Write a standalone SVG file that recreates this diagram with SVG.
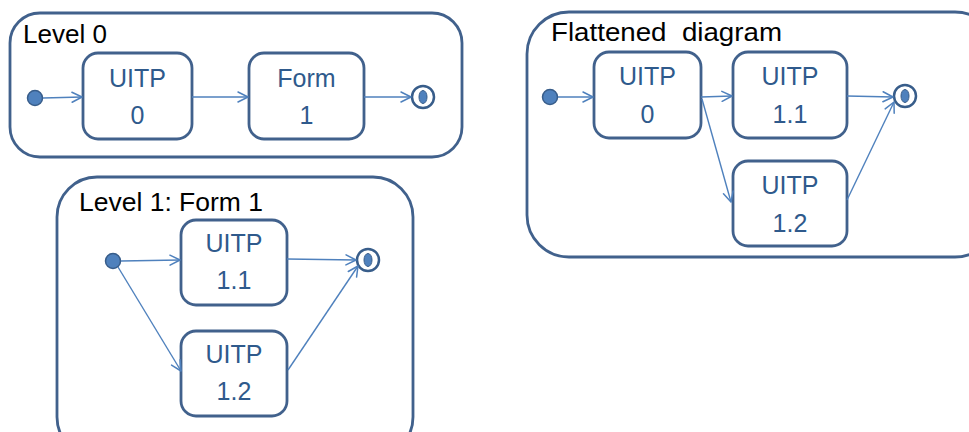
<svg xmlns="http://www.w3.org/2000/svg" width="969" height="432" viewBox="0 0 969 432">
<defs>
<marker id="arr" markerUnits="userSpaceOnUse" markerWidth="14" markerHeight="14" refX="11" refY="6" orient="auto" viewBox="0 0 14 12">
<path d="M1,1 L11,6 L1,11" fill="none" stroke="#4F81BD" stroke-width="1.5" stroke-linejoin="round" stroke-linecap="round"/>
</marker>
<style>
.cont{fill:#fff;stroke:#41618C;stroke-width:2.8}
.node{fill:#fff;stroke:#41618C;stroke-width:2.8}
.lbl{font-family:"Liberation Sans",Arial,sans-serif;font-size:26px;fill:#000}
.nt{font-family:"Liberation Sans",Arial,sans-serif;font-size:25px;fill:#2F5A8C;text-anchor:middle}
.init{fill:#4F81BD;stroke:#385D8A;stroke-width:1.5}
.fin{fill:#fff;stroke:#385D8A;stroke-width:2.5}
.fin-in{fill:#4F81BD;stroke:#385D8A;stroke-width:1}
.edge{fill:none;stroke:#4F81BD;stroke-width:1.4;marker-end:url(#arr)}
</style>
</defs>

<!-- Containers -->
<g id="level0">
<rect class="cont" x="10" y="13" width="452" height="144" rx="30"/>
<text class="lbl" x="23" y="43" textLength="84" lengthAdjust="spacingAndGlyphs">Level 0</text>
</g>
<g id="level1">
<rect class="cont" x="57" y="177" width="356" height="280" rx="40"/>
<text class="lbl" x="79" y="211" textLength="184" lengthAdjust="spacingAndGlyphs">Level 1: Form 1</text>
</g>
<g id="flattened">
<rect class="cont" x="527" y="12" width="470" height="245" rx="42"/>
<text class="lbl" x="551" y="41" xml:space="preserve" textLength="231" lengthAdjust="spacingAndGlyphs">Flattened  diagram</text>
</g>

<!-- Level 0 nodes -->
<g id="l0-init"><circle class="init" cx="35" cy="98" r="7.5"/></g>
<g id="l0-uitp0">
<rect class="node" x="83" y="53" width="109" height="86" rx="15"/>
<text class="nt" x="137.5" y="87">UITP</text>
<text class="nt" x="137.5" y="124">0</text>
</g>
<g id="l0-form1">
<rect class="node" x="249" y="53" width="115" height="86" rx="15"/>
<text class="nt" x="306.5" y="87">Form</text>
<text class="nt" x="306.5" y="124">1</text>
</g>
<g id="l0-final">
<circle class="fin" cx="423" cy="97" r="11"/>
<ellipse class="fin-in" cx="423" cy="97" rx="4" ry="6.5"/>
</g>

<!-- Level 1 nodes -->
<g id="l1-init"><circle class="init" cx="113" cy="261" r="7.5"/></g>
<g id="l1-uitp11">
<rect class="node" x="181" y="220" width="106" height="85" rx="15"/>
<text class="nt" x="234" y="252">UITP</text>
<text class="nt" x="234" y="289">1.1</text>
</g>
<g id="l1-uitp12">
<rect class="node" x="181" y="331" width="106" height="85" rx="15"/>
<text class="nt" x="234" y="363">UITP</text>
<text class="nt" x="234" y="400">1.2</text>
</g>
<g id="l1-final">
<circle class="fin" cx="368" cy="260" r="11"/>
<ellipse class="fin-in" cx="368" cy="260" rx="4" ry="6.5"/>
</g>

<!-- Flattened nodes -->
<g id="f-init"><circle class="init" cx="550" cy="97" r="7.5"/></g>
<g id="f-uitp0">
<rect class="node" x="594" y="52" width="107" height="86" rx="15"/>
<text class="nt" x="647.5" y="85">UITP</text>
<text class="nt" x="647.5" y="123">0</text>
</g>
<g id="f-uitp11">
<rect class="node" x="733" y="52" width="114" height="86" rx="15"/>
<text class="nt" x="790" y="85">UITP</text>
<text class="nt" x="790" y="123">1.1</text>
</g>
<g id="f-uitp12">
<rect class="node" x="733" y="161" width="114" height="85" rx="15"/>
<text class="nt" x="790" y="194">UITP</text>
<text class="nt" x="790" y="232">1.2</text>
</g>
<g id="f-final">
<circle class="fin" cx="905" cy="96" r="11"/>
<ellipse class="fin-in" cx="905" cy="96" rx="4" ry="6.5"/>
</g>

<!-- Connectors -->
<g id="connectors">
<line class="edge" x1="43" y1="98" x2="82" y2="97"/>
<line class="edge" x1="192" y1="97" x2="248" y2="97"/>
<line class="edge" x1="364" y1="97" x2="411" y2="97"/>

<line class="edge" x1="121" y1="261" x2="180" y2="260"/>
<line class="edge" x1="118" y1="267" x2="181" y2="371"/>
<line class="edge" x1="287" y1="259" x2="356" y2="260"/>
<line class="edge" x1="288" y1="370" x2="358" y2="266"/>

<line class="edge" x1="558" y1="97" x2="593" y2="97"/>
<line class="edge" x1="701" y1="97" x2="732" y2="96"/>
<line class="edge" x1="702" y1="99" x2="731" y2="202"/>
<line class="edge" x1="847" y1="96" x2="893" y2="97"/>
<line class="edge" x1="847" y1="200" x2="894" y2="102"/>
</g>
</svg>
